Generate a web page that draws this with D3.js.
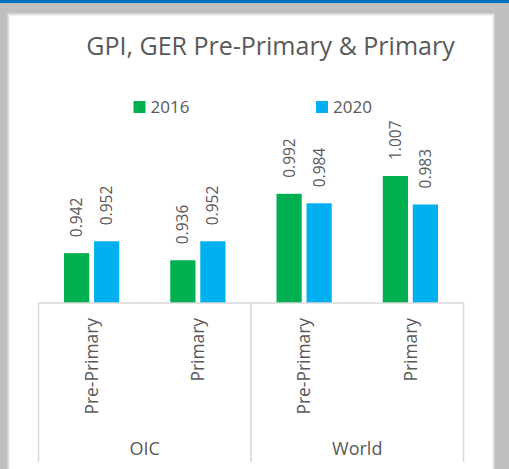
<!DOCTYPE html>
<html>
<head>
<meta charset="utf-8">
<script src="https://cdn.jsdelivr.net/npm/d3@7"></script>
<style>
  body { margin: 0; background: #bfbfbf; }
  svg { display: block; font-family: "Open Sans", "Segoe UI", sans-serif; }
</style>
</head>
<body>
<svg id="chart" width="509" height="469"></svg>
<script>
// data
const groups = ['OIC', 'World'];
const levels = ['Pre-Primary', 'Primary'];
const years = ['2016', '2020'];
const values2016 = [0.942, 0.936, 0.992, 1.007];
const values2020 = [0.952, 0.952, 0.984, 0.983];
const colors = ['#00b050', '#00b0f0'];

const W = 509, H = 469;
const plot = { left: 38.5, right: 463.5, bottom: 303 };
const textColor = '#595959';

const categories = [];
groups.forEach(g => levels.forEach(l => categories.push({ group: g, level: l, key: g + '|' + l })));
categories.forEach((c, i) => { c.values = [values2016[i], values2020[i]]; });

const svg = d3.select('#chart');

// frame
svg.append('rect').attr('width', W).attr('height', H).attr('fill', '#bfbfbf');
svg.append('rect').attr('width', W).attr('height', 3).attr('fill', '#0070c0');
svg.append('rect')
    .attr('x', 8.5).attr('y', 14.5)
    .attr('width', 485).attr('height', 470)
    .attr('fill', '#fff')
    .attr('stroke', '#e3e3e3').attr('stroke-width', 2);

// title
svg.append('text')
    .attr('x', 270.5).attr('y', 55)
    .attr('text-anchor', 'middle')
    .attr('fill', textColor)
    .style('font-size', '25px')
    .text('GPI, GER Pre-Primary & Primary');

// legend
const legendX = [133.5, 316];
years.forEach((yr, i) => {
    svg.append('rect')
        .attr('x', legendX[i]).attr('y', 101)
        .attr('width', 12).attr('height', 12)
        .attr('fill', colors[i]);
    svg.append('text')
        .attr('x', legendX[i] + 17).attr('y', 113)
        .attr('fill', textColor)
        .style('font-size', '17px')
        .text(yr);
});

// scales
const x0 = d3.scaleBand()
    .domain(categories.map(d => d.key))
    .range([plot.left, plot.right])
    .paddingInner(0.48)
    .paddingOuter(0.24);

const x1 = d3.scaleBand()
    .domain(years)
    .range([0, x0.bandwidth()])
    .paddingInner(0.16);

const y = d3.scaleLinear()
    .domain([0.9, 1.02])
    .range([plot.bottom, plot.bottom - 0.12 * 1187]);

// bars
const barGroups = svg.selectAll('g.cat')
    .data(categories)
    .enter()
    .append('g')
    .attr('class', 'cat')
    .attr('transform', d => `translate(${x0(d.key)},0)`);

barGroups.selectAll('rect')
    .data(d => d.values.map((v, i) => ({ year: years[i], value: v, i })))
    .enter()
    .append('rect')
    .attr('x', d => x1(d.year))
    .attr('y', d => y(d.value))
    .attr('width', x1.bandwidth())
    .attr('height', d => plot.bottom - y(d.value))
    .attr('fill', d => colors[d.i]);

// data labels
barGroups.selectAll('text.lbl')
    .data(d => d.values.map((v, i) => ({ year: years[i], value: v })))
    .enter()
    .append('text')
    .attr('class', 'lbl')
    .attr('transform', d => `translate(${x1(d.year) + x1.bandwidth() / 2},${y(d.value) - 16}) rotate(-90)`)
    .attr('dy', '0.36em')
    .attr('fill', textColor)
    .style('font-size', '15.5px')
    .text(d => d3.format('.3f')(d.value));

// category axis (multi-level)
const axisColor = '#d9d9d9';
svg.append('line')
    .attr('x1', plot.left).attr('x2', plot.right)
    .attr('y1', plot.bottom).attr('y2', plot.bottom)
    .attr('stroke', axisColor).attr('stroke-width', 1.5);

const groupEdges = [plot.left, (plot.left + plot.right) / 2, plot.right];
groupEdges.forEach(xv => {
    svg.append('line')
        .attr('x1', xv).attr('x2', xv)
        .attr('y1', plot.bottom).attr('y2', 462)
        .attr('stroke', axisColor).attr('stroke-width', 1.5);
});

svg.selectAll('text.cat-lbl')
    .data(categories)
    .enter()
    .append('text')
    .attr('class', 'cat-lbl')
    .attr('transform', d => `translate(${x0(d.key) + x0.bandwidth() / 2},318) rotate(-90)`)
    .attr('text-anchor', 'end')
    .attr('dy', '0.36em')
    .attr('fill', textColor)
    .style('font-size', '17.4px')
    .text(d => d.level);

svg.selectAll('text.grp-lbl')
    .data(groups)
    .enter()
    .append('text')
    .attr('class', 'grp-lbl')
    .attr('x', (d, i) => (groupEdges[i] + groupEdges[i + 1]) / 2)
    .attr('y', 455)
    .attr('text-anchor', 'middle')
    .attr('fill', textColor)
    .style('font-size', '18px')
    .text(d => d);
</script>
</body>
</html>
